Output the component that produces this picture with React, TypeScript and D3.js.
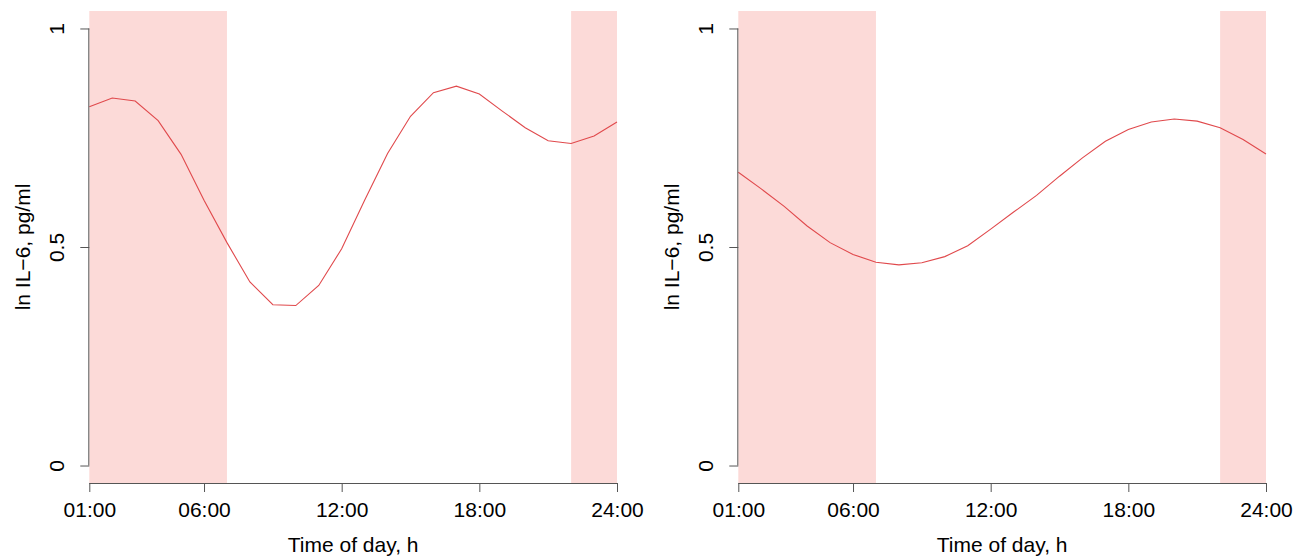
import React, { useEffect, useRef } from 'react'
import * as d3 from 'd3'

// hour of day, 1..24
const hours = [1, 2, 3, 4, 5, 6, 7, 8, 9, 10, 11, 12, 13, 14, 15, 16, 17, 18, 19, 20, 21, 22, 23, 24]

// left panel: ln IL-6 (pg/ml), hourly
const leftValues = [0.821, 0.841, 0.834, 0.789, 0.712, 0.607, 0.51, 0.42, 0.368, 0.366, 0.412, 0.496,
  0.607, 0.714, 0.799, 0.853, 0.868, 0.85, 0.811, 0.773, 0.743, 0.737, 0.754, 0.786]

// right panel: ln IL-6 (pg/ml), hourly
const rightValues = [0.671, 0.633, 0.593, 0.548, 0.51, 0.483, 0.465, 0.459, 0.464, 0.478, 0.503, 0.541,
  0.58, 0.618, 0.662, 0.704, 0.742, 0.769, 0.786, 0.793, 0.788, 0.773, 0.746, 0.713]

// night periods (shaded)
const nightStarts = [1, 22]
const nightEnds = [7, 24]

const xTickValues = [1, 6, 12, 18, 24]
const xTickLabels = ['01:00', '06:00', '12:00', '18:00', '24:00']
const yTickValues = [0, 0.5, 1]
const yTickLabels = ['0', '0.5', '1']

const xTitle = 'Time of day, h'
const yTitle = 'ln IL\u22126, pg/ml'

const W = 1310
const H = 558
const FONT = '"Liberation Sans", Arial, Helvetica, sans-serif'
const AXIS_COLOR = '#555'
const LINE_COLOR = '#e0494c'
const SHADE_COLOR = '#fcdad8'

function drawPanel (g, left, values) {
  const right = left + 527.7
  const top = 11
  const bottom = 483

  const x = d3.scaleLinear().domain([1, 24]).range([left, right])
  // R style 4% padding on y
  const y = d3.scaleLinear().domain([-0.04, 1.04]).range([bottom, top])

  // shading
  g.append('g')
    .selectAll('rect')
    .data(nightStarts.map((s, i) => [s, nightEnds[i]]))
    .enter()
    .append('rect')
      .attr('x', d => x(d[0]))
      .attr('width', d => x(d[1]) - x(d[0]))
      .attr('y', top)
      .attr('height', bottom - top)
      .attr('fill', SHADE_COLOR)

  // line
  const line = d3.line()
    .x((d, i) => x(hours[i]))
    .y(d => y(d))

  g.append('path')
    .datum(values)
    .attr('d', line)
    .attr('fill', 'none')
    .attr('stroke', LINE_COLOR)
    .attr('stroke-width', 1.1)

  // x axis
  const xAxis = g.append('g').attr('transform', `translate(0, ${bottom})`)
    .call(d3.axisBottom(x).tickValues(xTickValues).tickSize(9).tickPadding(10)
      .tickFormat((d, i) => xTickLabels[i]))
  xAxis.select('.domain').attr('stroke', AXIS_COLOR).attr('d', `M${x(1)},0.5H${x(24)}`)
  xAxis.selectAll('.tick line').attr('stroke', AXIS_COLOR)
  xAxis.selectAll('.tick text')
    .attr('fill', '#000')
    .attr('font-size', 21)
    .attr('font-family', FONT)
    .attr('dy', '0.71em')

  // y axis
  const yAxis = g.append('g').attr('transform', `translate(${left}, 0)`)
    .call(d3.axisLeft(y).tickValues(yTickValues).tickSize(9).tickFormat((d, i) => yTickLabels[i]))
  yAxis.select('.domain').attr('stroke', AXIS_COLOR).attr('d', `M-0.5,${y(0)}V${y(1)}`)
  yAxis.selectAll('.tick line').attr('stroke', AXIS_COLOR)
  yAxis.selectAll('.tick text')
    .attr('fill', '#000')
    .attr('font-size', 21)
    .attr('font-family', FONT)
    .attr('text-anchor', 'middle')
    .attr('x', null)
    .attr('dy', null)
    .attr('transform', 'translate(-25, 0) rotate(-90)')

  // titles
  g.append('text')
    .attr('x', (left + right) / 2)
    .attr('y', 552)
    .attr('text-anchor', 'middle')
    .attr('font-size', 21)
    .attr('font-family', FONT)
    .text(xTitle)

  g.append('text')
    .attr('transform', `translate(${left - 59}, ${y(0.5)}) rotate(-90)`)
    .attr('text-anchor', 'middle')
    .attr('font-size', 21)
    .attr('font-family', FONT)
    .text(yTitle)
}

export default function App () {
  const ref = useRef(null)

  useEffect(() => {
    const svg = d3.select(ref.current)
    svg.selectAll('*').remove()
    svg.append('rect').attr('width', W).attr('height', H).attr('fill', '#fff')
    drawPanel(svg.append('g'), 89.3, leftValues)
    drawPanel(svg.append('g'), 738.3, rightValues)
  }, [])

  return (
    <svg ref={ref} width={W} height={H}
      style={{ position: 'absolute', left: 0, top: 0, display: 'block' }} />
  )
}
